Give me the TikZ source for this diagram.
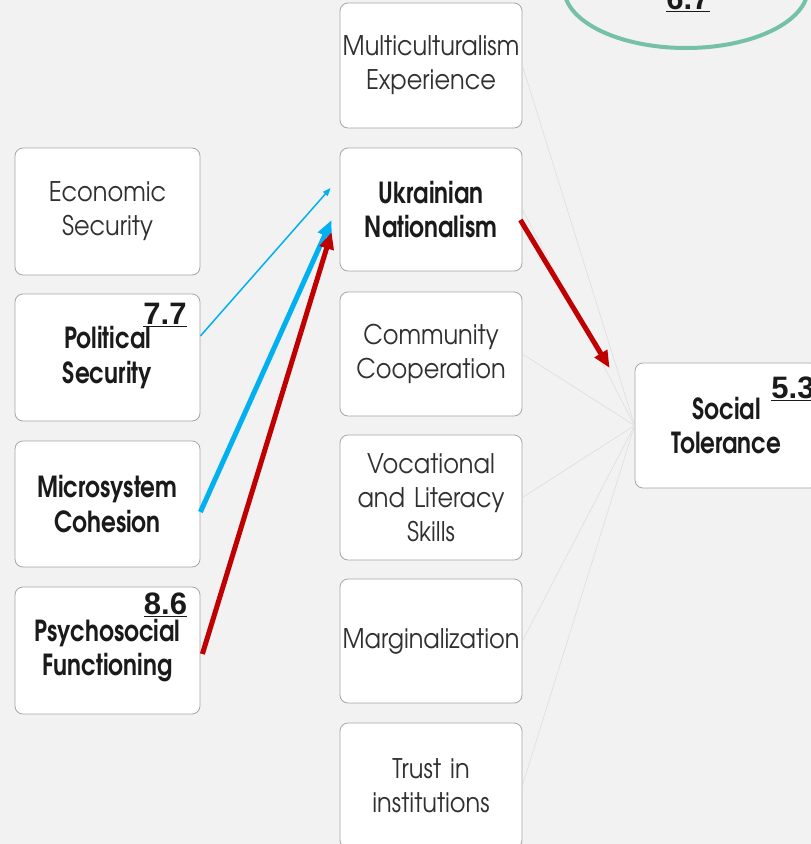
\documentclass[tikz,border=0pt]{standalone}
\usepackage{fontspec}
\setmainfont{texgyreadventor-regular.otf}[BoldFont=texgyreadventor-bold.otf]
\newfontfamily\regf{texgyreadventor-regular.otf}[FakeStretch=0.89]
\newfontfamily\bfc{texgyreadventor-bold.otf}[FakeStretch=0.8]
\newfontfamily\numf{Liberation Sans}
\usetikzlibrary{arrows.meta,calc}
\definecolor{bgc}{HTML}{F2F2F2}
\definecolor{boxc}{HTML}{A6A6A6}
\definecolor{regc}{HTML}{303030}
\definecolor{boldc}{HTML}{1A1A1A}
\definecolor{blu}{HTML}{00B0F0}
\definecolor{rd}{HTML}{C00000}
\definecolor{grn}{HTML}{74C0A8}
\definecolor{faint}{HTML}{DEDEDE}
\begin{document}
\begin{tikzpicture}[x=1pt,y=-1pt,
  card/.style={draw=boxc, fill=white, rounded corners=8pt, line width=0.8pt,
    inner sep=0pt, align=center, text width=178pt},
  lbox/.style={card, minimum width=185pt, minimum height=127pt},
  mbox/.style={card, minimum width=182pt, minimum height=124pt},
  regtxt/.style={font=\regf\fontsize{27}{34}\selectfont, text=regc},
  boldtxt/.style={font=\bfc\fontsize{29}{34.5}\selectfont, text=boldc},
  numlab/.style={font=\numf\bfseries\fontsize{31}{32}\selectfont, text=boldc, inner sep=0pt, anchor=south},
  thinarrow/.style={blu, line width=1.5pt, -{Triangle[length=8pt,width=6pt]}},
  thickarrow/.style={line width=5pt, -{Triangle[length=17pt,width=14pt]}},
  faintline/.style={faint, line width=0.6pt}
]
\fill[bgc] (0,0) rectangle (811,844);
\useasboundingbox (0,0) rectangle (811,844);
\clip (0,0) rectangle (811,844);

\draw[grn, line width=4pt] (686,-12) ellipse [x radius=122, y radius=60];
\node[numlab] (n67) at (688,12) {\underline{6.7}};

% left column
\node[lbox, regtxt] (eco) at (107.5,211.5) {Economic\\Security};
\node[lbox, boldtxt] (pol) at (107.5,357.5) {Political\\Security};
\node[lbox, boldtxt, minimum height=126pt] (mic) at (107.5,504) {Microsystem\\Cohesion};
\node[lbox, boldtxt] (psy) at (107.5,650.5) {Psychosocial\\Functioning};

% middle column
\node[mbox, regtxt, minimum height=125pt] (mul) at (431,65.5) {Multiculturalism\\Experience};
\node[mbox, boldtxt, minimum height=123pt] (ukr) at (431,209.5) {Ukrainian\\Nationalism};
\node[mbox, regtxt] (com) at (431,354) {Community\\Cooperation};
\node[mbox, regtxt, minimum height=125pt] (voc) at (431,497.5) {Vocational\\and Literacy\\Skills};
\node[mbox, regtxt] (mar) at (431,641) {Marginalization};
\node[mbox, regtxt, minimum height=125pt] (tru) at (431,785.5) {Trust in\\institutions};

% outcome
\node[card, boldtxt, minimum width=183pt, minimum height=125pt] (soc) at (726.5,425.5) {Social\\Tolerance};

% faint links
\foreach \m in {mul,ukr,com,voc,mar,tru}
  \draw[faintline] (\m.east) -- (soc.west);

% arrows
\draw[thinarrow] ($(pol.east)+(0,-21.5)$) -- ($(ukr.west)+(-9,-21.5)$);
\draw[thickarrow, blu] ($(mic.east)+(0,8)$) -- ($(ukr.west)+(-8,10.5)$);
\draw[thickarrow, rd] ($(psy.east)+(2,3.5)$) -- ($(ukr.west)+(-8,22.5)$);
\draw[thickarrow, rd] ($(ukr.east)+(-2,10.5)$) -- ($(soc.west)+(-25,-57.5)$);

% numeric labels
\node[numlab] (n77) at (165,327) {\underline{7.7}};
\node[numlab] (n86) at (165.5,617) {\underline{8.6}};
\node[numlab] (n53) at (793,401) {\underline{5.3}};
\end{tikzpicture}
\end{document}
